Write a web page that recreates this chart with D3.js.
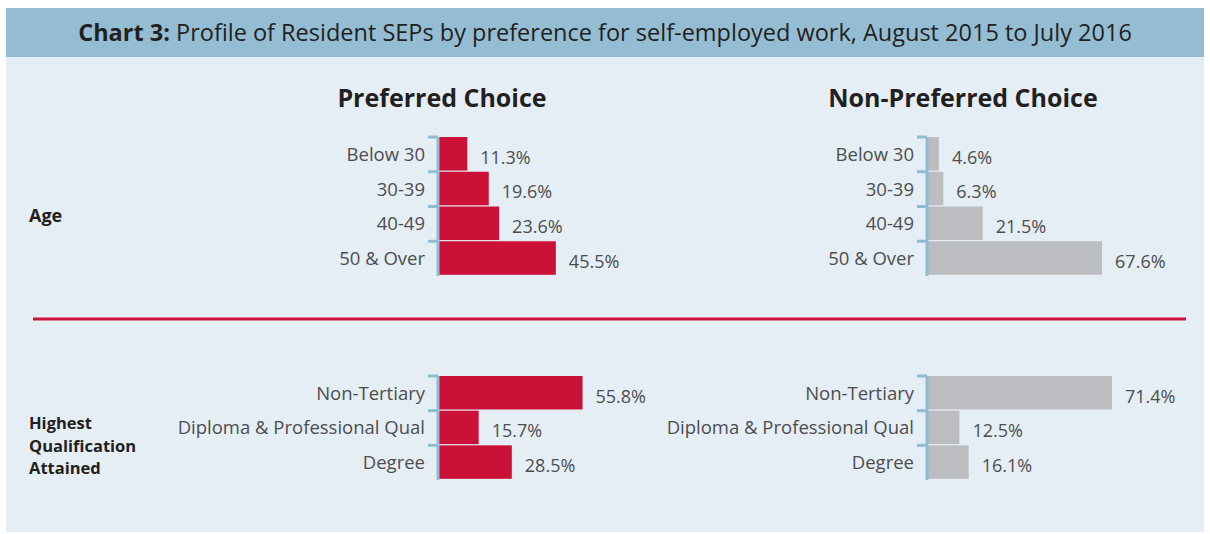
<!DOCTYPE html>
<html>
<head>
<meta charset="utf-8">
<script src="https://cdn.jsdelivr.net/npm/d3@7"></script>
<style>
  body { margin: 0; background: #fff; }
  text { font-family: "Open Sans", sans-serif; }
</style>
</head>
<body>
<svg id="chart"></svg>
<script>
// data
const ageCats = ["Below 30", "30-39", "40-49", "50 & Over"];
const agePreferred = [11.3, 19.6, 23.6, 45.5];
const ageNonPreferred = [4.6, 6.3, 21.5, 67.6];

const qualCats = ["Non-Tertiary", "Diploma & Professional Qual", "Degree"];
const qualPreferred = [55.8, 15.7, 28.5];
const qualNonPreferred = [71.4, 12.5, 16.1];

const panelTitles = ["Preferred Choice", "Non-Preferred Choice"];

const width = 1210, height = 534;
const red = "#cc1139", grey = "#bcbdc1", axisBlue = "#8fbcd3";

const svg = d3.select("#chart")
    .attr("width", width)
    .attr("height", height);

// background panel + title band
svg.append("rect")
    .attr("x", 6).attr("y", 8)
    .attr("width", 1198).attr("height", 524)
    .attr("fill", "#e6eef5");
svg.append("rect")
    .attr("x", 6).attr("y", 8)
    .attr("width", 1198).attr("height", 49)
    .attr("fill", "#94bdd3");

let title = svg.append("text")
    .attr("x", 605).attr("y", 41)
    .attr("text-anchor", "middle")
    .style("font-size", "23.5px")
    .attr("fill", "#231f20");
title.append("tspan").style("font-weight", "bold").text("Chart 3: ");
title.append("tspan").text("Profile of Resident SEPs by preference for self-employed work, August 2015 to July 2016");

// panel headings
const headX = [442, 963];
svg.selectAll(".head")
    .data(panelTitles)
    .enter().append("text")
    .attr("class", "head")
    .attr("x", (d, i) => headX[i])
    .attr("y", 107)
    .attr("text-anchor", "middle")
    .style("font-size", "25px")
    .style("font-weight", "bold")
    .attr("fill", "#231f20")
    .text(d => d);

// shared value scale for both panels
const x = d3.scaleLinear().domain([0, 100]).range([0, 259]);
const axisX = [438, 927];

function drawBlock(cats, values, top, bottom, panel, color) {
    const y = d3.scaleBand()
        .domain(cats)
        .range([top, bottom])
        .paddingInner(0);

    const g = svg.append("g")
        .attr("transform", `translate(${axisX[panel]},0)`);

    g.selectAll("rect")
        .data(values)
        .enter().append("rect")
        .attr("x", 0)
        .attr("y", (d, i) => y(cats[i]))
        .attr("width", d => x(d))
        .attr("height", y.bandwidth() - 1.2)
        .attr("fill", color);

    // bracket-style axis: vertical line + tick at top of each band
    g.append("line")
        .attr("x1", 0).attr("x2", 0)
        .attr("y1", top).attr("y2", bottom)
        .attr("stroke", axisBlue)
        .attr("stroke-width", 3);
    g.selectAll(".tick")
        .data(cats)
        .enter().append("line")
        .attr("class", "tick")
        .attr("x1", -10).attr("x2", 0)
        .attr("y1", d => y(d)).attr("y2", d => y(d))
        .attr("stroke", axisBlue)
        .attr("stroke-width", 3);

    g.selectAll(".cat")
        .data(cats)
        .enter().append("text")
        .attr("class", "cat")
        .attr("x", -13)
        .attr("y", d => y(d) + y.bandwidth() / 2)
        .attr("dy", "0.35em")
        .attr("text-anchor", "end")
        .style("font-size", "18.5px")
        .attr("fill", "#4d4d4f")
        .text(d => d);

    g.selectAll(".val")
        .data(values)
        .enter().append("text")
        .attr("class", "val")
        .attr("x", d => x(d) + 13)
        .attr("y", (d, i) => y(cats[i]) + y.bandwidth() / 2 + 3)
        .attr("dy", "0.35em")
        .style("font-size", "18px")
        .attr("fill", "#4d4d4f")
        .text(d => d.toFixed(1) + "%");
}

drawBlock(ageCats, agePreferred, 137, 276, 0, red);
drawBlock(ageCats, ageNonPreferred, 137, 276, 1, grey);
drawBlock(qualCats, qualPreferred, 376, 480, 0, red);
drawBlock(qualCats, qualNonPreferred, 376, 480, 1, grey);

// divider between the two groups
svg.append("line")
    .attr("x1", 33).attr("x2", 1186)
    .attr("y1", 319).attr("y2", 319)
    .attr("stroke", red)
    .attr("stroke-width", 3);

// row group labels
svg.append("text")
    .attr("x", 29).attr("y", 222)
    .style("font-size", "18px")
    .style("font-weight", "bold")
    .attr("fill", "#231f20")
    .text("Age");

svg.append("text")
    .attr("x", 29).attr("y", 429)
    .style("font-size", "16.5px")
    .style("font-weight", "bold")
    .attr("fill", "#231f20")
    .selectAll("tspan")
    .data(["Highest", "Qualification", "Attained"])
    .enter().append("tspan")
    .attr("x", 29)
    .attr("dy", (d, i) => i === 0 ? 0 : 22.5)
    .text(d => d);
</script>
</body>
</html>
